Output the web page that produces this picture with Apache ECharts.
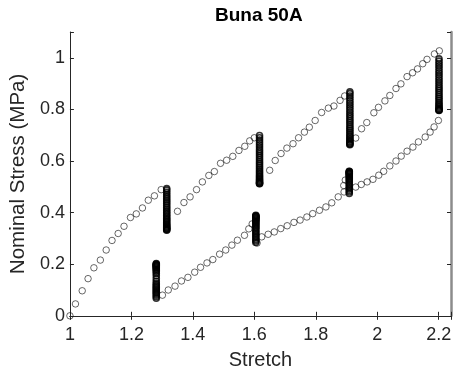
<!DOCTYPE html>
<html>
<head>
<meta charset="utf-8">
<script src="https://cdn.jsdelivr.net/npm/echarts@6/dist/echarts.min.js"></script>
<style>
  html, body { margin: 0; padding: 0; background: #fff; }
  #chart { width: 458px; height: 379px; }
</style>
</head>
<body>
<div id="chart"></div>
<script>
// Buna 50A: stepwise stretch test. Loading branch with relaxation holds,
// unloading branch with recovery holds.

const loadStretch = [
  1.000, 1.018, 1.040, 1.059, 1.078, 1.099, 1.118, 1.137, 1.157, 1.176, 1.197, 1.216, 1.236, 1.255, 1.275, 1.297,
  1.350, 1.371, 1.391, 1.412, 1.431, 1.452, 1.470, 1.490, 1.510, 1.530, 1.550, 1.569, 1.585, 1.600,
  1.650, 1.668, 1.687, 1.706, 1.726, 1.744, 1.763, 1.779, 1.798, 1.819, 1.841, 1.859, 1.879, 1.894,
  1.930, 1.949, 1.966, 1.989, 2.004, 2.025, 2.041, 2.061, 2.077, 2.097, 2.115, 2.131, 2.148, 2.162, 2.186, 2.202
];
const loadStress = [
  0.000, 0.046, 0.097, 0.144, 0.186, 0.216, 0.255, 0.292, 0.319, 0.347, 0.381, 0.395, 0.418, 0.448, 0.465, 0.489,
  0.405, 0.439, 0.461, 0.489, 0.519, 0.544, 0.559, 0.591, 0.603, 0.618, 0.641, 0.657, 0.678, 0.690,
  0.564, 0.602, 0.629, 0.650, 0.667, 0.690, 0.712, 0.731, 0.757, 0.788, 0.805, 0.813, 0.835, 0.852,
  0.689, 0.725, 0.749, 0.787, 0.808, 0.833, 0.854, 0.881, 0.899, 0.927, 0.942, 0.957, 0.977, 0.994, 1.015, 1.027
];

const unloadStretch = [
  1.301, 1.320, 1.342, 1.363, 1.384, 1.406, 1.425, 1.446, 1.465, 1.487, 1.507, 1.527, 1.545, 1.568, 1.582, 1.593,
  1.609, 1.624, 1.645, 1.665, 1.686, 1.707, 1.729, 1.749, 1.771, 1.790, 1.812, 1.833, 1.852, 1.873, 1.892, 1.891, 1.896,
  1.930, 1.948, 1.967, 1.986, 2.005, 2.021, 2.041, 2.061, 2.078, 2.097, 2.116, 2.134, 2.156, 2.172, 2.185, 2.199
];
const unloadStress = [
  0.080, 0.100, 0.115, 0.135, 0.149, 0.169, 0.188, 0.205, 0.218, 0.239, 0.255, 0.274, 0.293, 0.312, 0.337, 0.356,
  0.282, 0.306, 0.316, 0.325, 0.338, 0.349, 0.362, 0.371, 0.383, 0.396, 0.409, 0.422, 0.438, 0.461, 0.480, 0.505, 0.526,
  0.499, 0.509, 0.519, 0.529, 0.545, 0.560, 0.581, 0.600, 0.619, 0.638, 0.654, 0.674, 0.693, 0.712, 0.732, 0.757
];

// Relaxation holds on the loading branch
const holdStretch = [1.315, 1.617, 1.911, 2.201];
const holdStress1 = [0.493, 0.487, 0.479, 0.471, 0.463, 0.456, 0.449, 0.442, 0.435, 0.428, 0.421, 0.414, 0.407, 0.401, 0.395, 0.389, 0.383, 0.377, 0.372, 0.367, 0.362, 0.357, 0.353, 0.349, 0.345, 0.342, 0.339, 0.336, 0.334, 0.332];
const holdStress2 = [0.699, 0.690, 0.681, 0.672, 0.663, 0.654, 0.645, 0.637, 0.629, 0.621, 0.613, 0.605, 0.597, 0.590, 0.583, 0.576, 0.569, 0.562, 0.556, 0.550, 0.544, 0.539, 0.534, 0.529, 0.525, 0.521, 0.518, 0.515, 0.513, 0.512];
const holdStress3 = [0.868, 0.861, 0.852, 0.843, 0.834, 0.825, 0.816, 0.807, 0.798, 0.789, 0.780, 0.772, 0.764, 0.756, 0.748, 0.740, 0.732, 0.725, 0.718, 0.711, 0.704, 0.698, 0.692, 0.686, 0.681, 0.676, 0.672, 0.668, 0.665, 0.663];
const holdStress4 = [0.996, 0.987, 0.978, 0.969, 0.960, 0.951, 0.942, 0.933, 0.924, 0.915, 0.906, 0.897, 0.889, 0.881, 0.873, 0.865, 0.857, 0.849, 0.842, 0.835, 0.828, 0.822, 0.816, 0.811, 0.806, 0.802, 0.799, 0.797, 0.796];

// Recovery holds on the unloading branch
const recoverStretch = [1.281, 1.605, 1.909];
const recoverStress1 = [0.068, 0.074, 0.080, 0.085, 0.090, 0.095, 0.100, 0.105, 0.110, 0.115, 0.120, 0.126, 0.134, 0.144, 0.155, 0.164, 0.171, 0.176, 0.180, 0.184, 0.187, 0.190, 0.193, 0.195, 0.197, 0.199, 0.201, 0.203];
const recoverStress2 = [0.284, 0.290, 0.296, 0.302, 0.308, 0.314, 0.320, 0.326, 0.332, 0.338, 0.343, 0.348, 0.353, 0.358, 0.362, 0.366, 0.370, 0.373, 0.376, 0.379, 0.382, 0.384, 0.386, 0.388, 0.390];
const recoverStress3 = [0.474, 0.480, 0.486, 0.492, 0.498, 0.504, 0.510, 0.516, 0.522, 0.527, 0.532, 0.537, 0.541, 0.545, 0.548, 0.551, 0.553, 0.555, 0.557, 0.559, 0.560];

const xTicks = { min: 1, max: 2.24, interval: 0.2 };
const yTicks = { min: 0, max: 1.1, interval: 0.2 };

const pathPoints = [];
loadStretch.forEach((s, i) => pathPoints.push([s, loadStress[i]]));
unloadStretch.forEach((s, i) => pathPoints.push([s, unloadStress[i]]));

const holdPoints = [];
[holdStress1, holdStress2, holdStress3, holdStress4].forEach((col, k) =>
  col.forEach(v => holdPoints.push([holdStretch[k], v])));
[recoverStress1, recoverStress2, recoverStress3].forEach((col, k) =>
  col.forEach(v => holdPoints.push([recoverStretch[k], v])));

const FONT = '"Liberation Sans", Arial, Helvetica, sans-serif';
const INK = '#262626';

function onGrid(v, step) {
  return Math.abs(v / step - Math.round(v / step)) < 1e-6;
}
function fmt(v, step) {
  return onGrid(v, step) ? String(+v.toFixed(1)) : '';
}

const tickStyle = { show: true, inside: true, length: 4, lineStyle: { color: INK, width: 1 } };
const lineStyle = { show: true, lineStyle: { color: INK, width: 1 } };

const chart = echarts.init(document.getElementById('chart'), null, { renderer: 'canvas' });
chart.setOption({
  animation: false,
  backgroundColor: '#fff',
  grid: { left: 66.7, top: 32, right: 7, bottom: 63.2, containLabel: false },
  graphic: [{
    type: 'text',
    x: 258.8, y: 16,
    style: {
      text: 'Buna 50A', font: 'bold 19px ' + FONT, fill: '#000',
      textAlign: 'center', textVerticalAlign: 'middle'
    }
  }],
  xAxis: [{
    type: 'value', position: 'bottom',
    min: xTicks.min, max: xTicks.max, interval: xTicks.interval,
    name: 'Stretch', nameLocation: 'middle', nameGap: 35,
    nameTextStyle: { fontFamily: FONT, fontSize: 20, color: INK },
    axisLine: lineStyle, axisTick: tickStyle, splitLine: { show: false },
    axisLabel: { fontFamily: FONT, fontSize: 18, color: INK, margin: 10,
      formatter: v => fmt(v, xTicks.interval) }
  }, {
    type: 'value', position: 'top',
    min: xTicks.min, max: xTicks.max, interval: xTicks.interval,
    axisLine: lineStyle, axisTick: tickStyle, splitLine: { show: false },
    axisLabel: { show: false }
  }],
  yAxis: [{
    type: 'value', position: 'left',
    min: yTicks.min, max: yTicks.max, interval: yTicks.interval,
    name: 'Nominal Stress (MPa)', nameLocation: 'middle', nameGap: 38,
    nameTextStyle: { fontFamily: FONT, fontSize: 20.5, color: INK },
    axisLine: lineStyle, axisTick: tickStyle, splitLine: { show: false },
    axisLabel: { fontFamily: FONT, fontSize: 18, color: INK, margin: 5,
      formatter: v => fmt(v, yTicks.interval) }
  }, {
    type: 'value', position: 'right',
    min: yTicks.min, max: yTicks.max, interval: yTicks.interval,
    axisLine: { show: true, lineStyle: { color: '#8c8c8c', width: 2.5 } },
    axisTick: tickStyle, splitLine: { show: false },
    axisLabel: { show: false }
  }],
  series: [{
    type: 'scatter',
    xAxisIndex: 0, yAxisIndex: 0,
    data: pathPoints,
    symbol: 'circle',
    symbolSize: 6.5,
    clip: false,
    itemStyle: { color: 'rgba(0,0,0,0)', borderColor: '#111', borderWidth: 0.8 },
    emphasis: { disabled: true }
  }, {
    type: 'scatter',
    xAxisIndex: 0, yAxisIndex: 0,
    data: holdPoints,
    symbol: 'circle',
    symbolSize: 6,
    clip: false,
    itemStyle: { color: 'rgba(0,0,0,0)', borderColor: '#000', borderWidth: 1.6 },
    emphasis: { disabled: true }
  }]
});
</script>
</body>
</html>
